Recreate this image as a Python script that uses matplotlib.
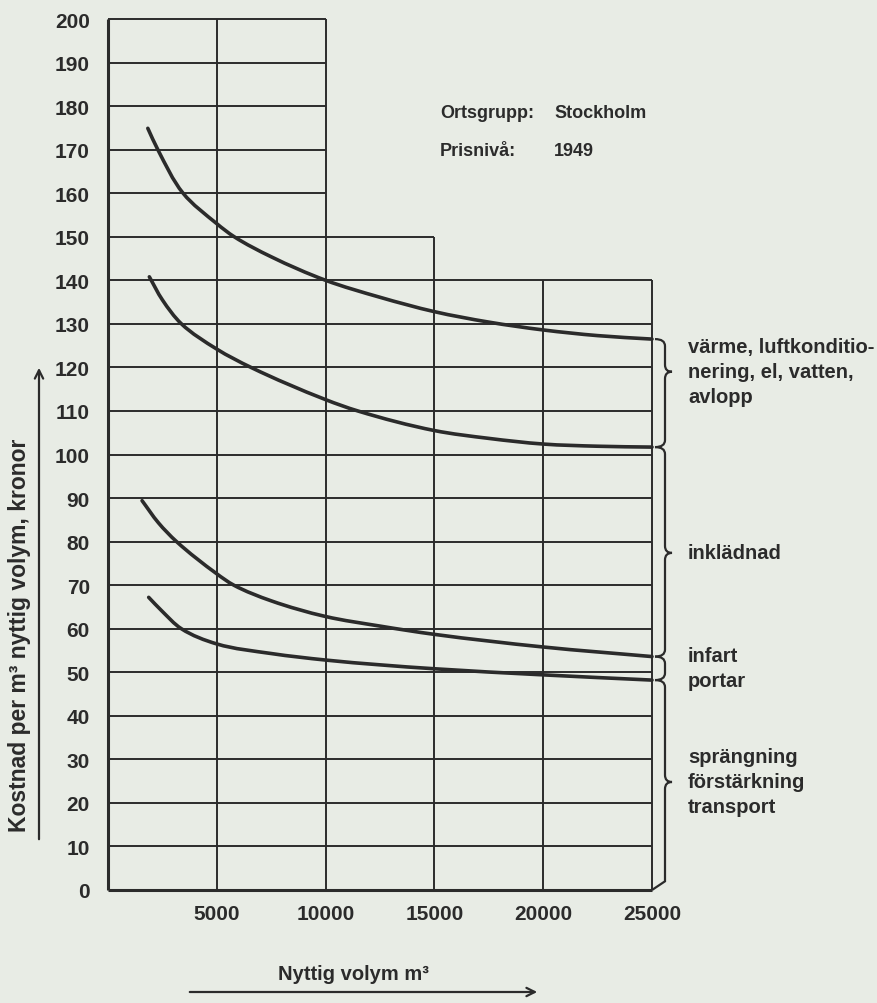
import matplotlib
matplotlib.use("Agg")
import matplotlib.pyplot as plt
import numpy as np
from matplotlib.path import Path
from matplotlib.patches import PathPatch, FancyArrowPatch

plt.rcParams["font.family"] = ["Liberation Sans", "DejaVu Sans"]

PAPER = "#e8ece5"
INK = "#2b2b2b"

# --- data -------------------------------------------------------------------
x_ticks = [5000, 10000, 15000, 20000, 25000]
y_ticks = list(range(0, 201, 10))

# cumulative cost curves (kr per m3) against usable volume (m3)
c1_x = [1830, 2290, 3450, 5000, 5800, 7500, 10000, 12500, 15000, 17500, 20000, 22500, 25000]
c1_y = [174.9, 170, 160, 153.0, 150, 145.4, 140, 136.1, 132.8, 130.4, 128.6, 127.3, 126.5]
c2_x = [1900, 2500, 3375, 5000, 6570, 10000, 11480, 15000, 17500, 20000, 22500, 25000]
c2_y = [140.8, 135.5, 130, 124.2, 120, 112.6, 110, 105.5, 103.7, 102.4, 101.9, 101.7]
c3_x = [1566, 2320, 3150, 5000, 5780, 7500, 10000, 12500, 15000, 20000, 25000]
c3_y = [89.4, 84.3, 80, 72.6, 70, 66.4, 62.8, 60.6, 58.7, 55.8, 53.6]
c4_x = [1870, 2470, 3370, 5000, 7500, 10000, 12500, 15000, 20000, 25000]
c4_y = [67.2, 64.1, 60, 56.5, 54.3, 52.8, 51.7, 50.8, 49.4, 48.2]

# cost groups bracketed on the right: (top, bottom, tip or None, label lines)
groups = [
    (c1_y[-1], c2_y[-1], 119, ["värme, luftkonditio-", "nering, el, vatten,", "avlopp"]),
    (c2_y[-1], c3_y[-1], 77.4, ["inklädnad"]),
    (c3_y[-1], c4_y[-1], None, ["infart", "portar"]),
    (c4_y[-1], 0, 24.8, ["sprängning", "förstärkning", "transport"]),
]

# grid height per column (stepped outline)
col_x = [0, 5000, 10000, 15000, 20000, 25000]
col_top = [200, 200, 200, 150, 140, 140]

# --- figure -----------------------------------------------------------------
W, H = 877, 1004
AX_W, AX_H = 544, 871
fig = plt.figure(figsize=(W / 100, H / 100), dpi=100, facecolor=PAPER)
ax = fig.add_axes([108 / W, 113 / H, AX_W / W, AX_H / H])
ax.set_facecolor("none")
ax.set_xlim(0, 25000)
ax.set_ylim(0, 200)
for s in ax.spines.values():
    s.set_visible(False)

ax.set_yticks(y_ticks, [str(v) for v in y_ticks])
ax.set_xticks(x_ticks, [str(v) for v in x_ticks])
ax.tick_params(axis="y", length=0, pad=13, labelsize=15, labelcolor=INK)
ax.tick_params(axis="x", length=0, pad=10, labelsize=15, labelcolor=INK)
for lab in ax.get_xticklabels() + ax.get_yticklabels():
    lab.set_fontweight("bold")

# grid: each level runs as far right as the columns reaching it
for v in y_ticks:
    right = max(x for x, t in zip(col_x, col_top) if t >= v)
    lw = 2.2 if v == 0 else 1.4
    ax.plot([0, right], [v, v], color=INK, lw=lw, clip_on=False,
            solid_capstyle="butt")
for x, t in zip(col_x, col_top):
    lw = 2.2 if x == 0 else 1.4
    ax.plot([x, x], [0, t], color=INK, lw=lw, clip_on=False,
            solid_capstyle="butt")


def smooth_path(xs, ys):
    """Cubic Bezier path through the points, tangents from unit chords."""
    sx, sy = AX_W / 25000, AX_H / 200
    p = np.column_stack([np.asarray(xs) * sx, np.asarray(ys) * sy])
    n = len(p)
    chords = np.diff(p, axis=0)
    units = chords / np.hypot(chords[:, 0], chords[:, 1])[:, None]
    tan = np.zeros_like(p)
    tan[0], tan[-1] = units[0], units[-1]
    for i in range(1, n - 1):
        t = units[i - 1] + units[i]
        tan[i] = t / np.hypot(*t)
    verts, codes = [p[0]], [Path.MOVETO]
    for i in range(n - 1):
        L = np.hypot(*chords[i]) / 3
        verts += [p[i] + tan[i] * L, p[i + 1] - tan[i + 1] * L, p[i + 1]]
        codes += [Path.CURVE4] * 3
    v = np.array(verts) / [sx, sy]
    return Path(v, codes)


for cx, cy in [(c1_x, c1_y), (c2_x, c2_y), (c3_x, c3_y), (c4_x, c4_y)]:
    ax.add_patch(PathPatch(smooth_path(cx, cy), fill=False, edgecolor=INK,
                           lw=2.6, capstyle="round", clip_on=False))

# braces to the right of the grid
px = 25000 / AX_W          # data units per pixel along x
vx = 25000 + 13 * px       # brace spine
cusp = 25000 + 3 * px
tipx = 25000 + 20 * px
d = 1.6                    # vertical size of each bend (data units)
lab_x = 25000 + 36 * px
line_h = 25 * 200 / AX_H   # text line height in data units

for top, bot, tip, lines in groups:
    verts = [(cusp, top), (vx, top), (vx, top - d)]
    codes = [Path.MOVETO, Path.CURVE3, Path.CURVE3]
    if tip is not None:
        verts += [(vx, tip + d), (vx, tip), (tipx, tip), (vx, tip), (vx, tip - d)]
        codes += [Path.LINETO, Path.CURVE3, Path.CURVE3, Path.CURVE3, Path.CURVE3]
    if bot > 0:
        verts += [(vx, bot + d), (vx, bot), (cusp, bot)]
        codes += [Path.LINETO, Path.CURVE3, Path.CURVE3]
    else:
        verts += [(vx, 2.0), (25000, 0)]
        codes += [Path.LINETO, Path.LINETO]
    ax.add_patch(PathPatch(Path(verts, codes), fill=False, edgecolor=INK,
                           lw=1.6, clip_on=False))
    mid = tip if tip is not None else (top + bot) / 2
    n = len(lines)
    for i, s in enumerate(lines):
        yy = mid + ((n - 1) / 2 - i) * line_h
        ax.text(lab_x, yy, s, fontsize=14.5, color=INK, ha="left", va="center",
                fontweight="bold", clip_on=False)

# header
for label, value, ypx in [("Ortsgrupp:", "Stockholm", 113), ("Prisnivå:", "1949", 151)]:
    fig.text(440 / W, 1 - ypx / H, label, fontsize=13, color=INK,
             va="center", fontweight="bold")
    fig.text(554 / W, 1 - ypx / H, value, fontsize=13, color=INK,
             va="center", fontweight="bold")

# axis titles with arrows
fig.text(20 / W, 1 - 635 / H, "Kostnad per m³ nyttig volym, kronor",
         rotation=90, fontsize=16.5, color=INK, ha="center", va="center",
         fontweight="bold")
fig.patches.append(FancyArrowPatch((39 / W, 1 - 843 / H), (39 / W, 1 - 366 / H),
                                   transform=fig.transFigure,
                                   arrowstyle="->,head_length=6,head_width=3",
                                   color=INK, lw=1.6))
fig.text(353 / W, 1 - 975 / H, "Nyttig volym m³", fontsize=14.5, color=INK,
         ha="center", va="center", fontweight="bold")
fig.patches.append(FancyArrowPatch((187 / W, 1 - 993 / H), (540 / W, 1 - 993 / H),
                                   transform=fig.transFigure,
                                   arrowstyle="->,head_length=6,head_width=3",
                                   color=INK, lw=1.6))

fig.savefig("out.png", dpi=100, facecolor=PAPER)
